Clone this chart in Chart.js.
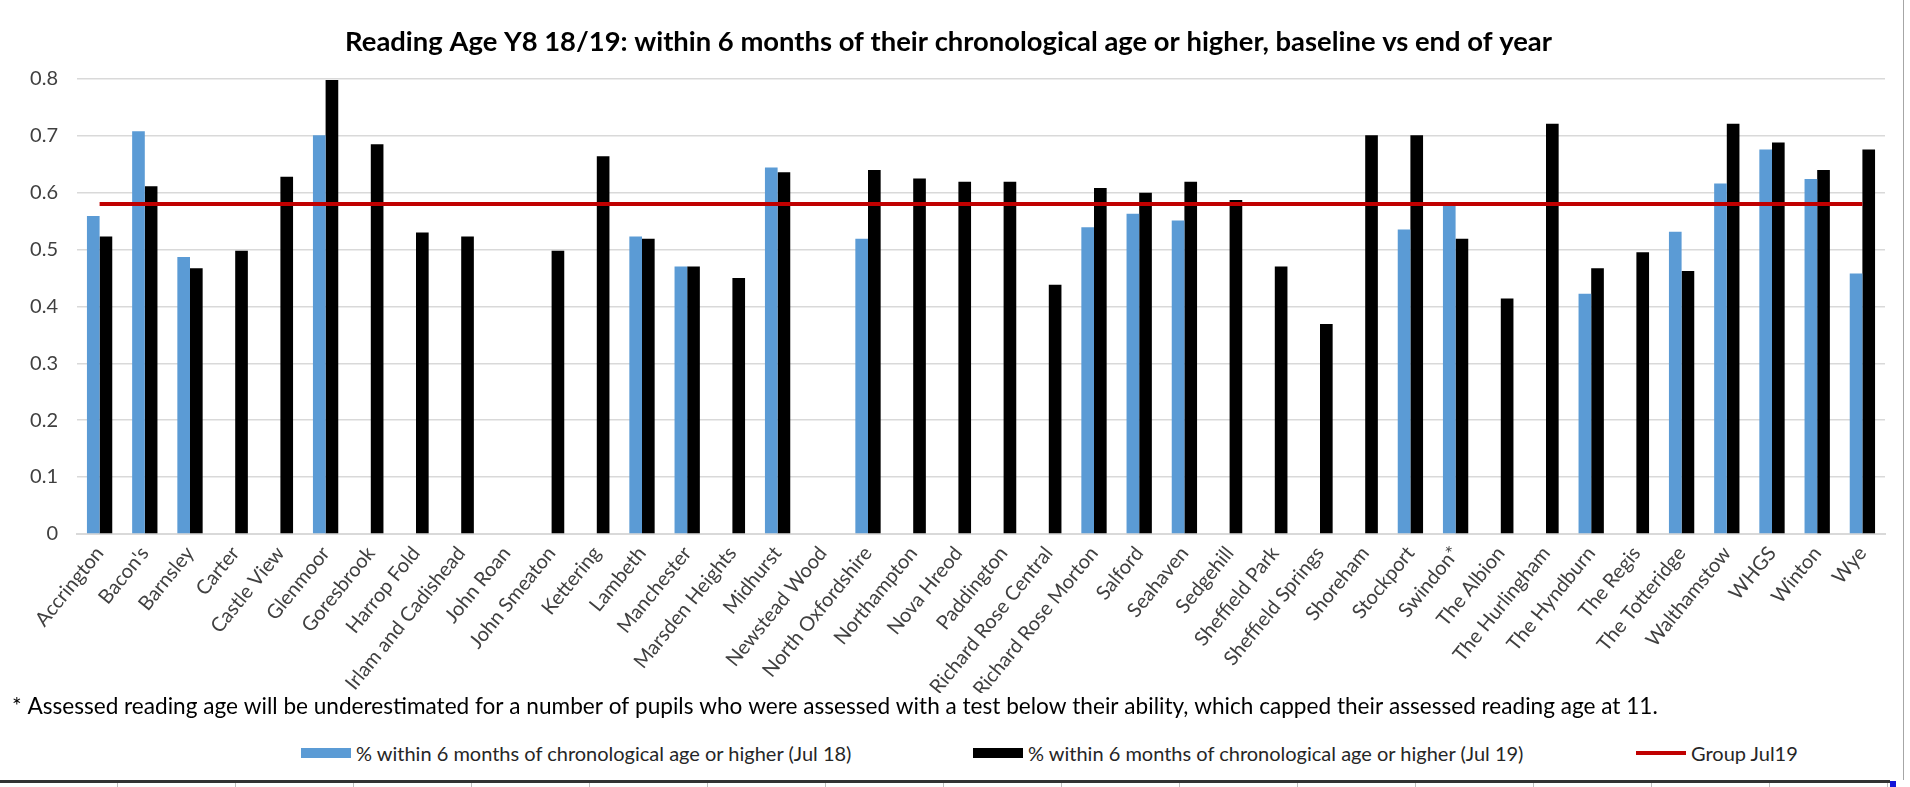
<!DOCTYPE html>
<html lang="en">
<head>
<meta charset="UTF-8">
<title>Reading Age Y8 18/19</title>
<script src="https://cdn.jsdelivr.net/npm/chart.js"></script>
<style>
  body { margin: 0; background: #fff; font-family: Lato, sans-serif; }
  #wrap { position: relative; width: 1910px; height: 787px; overflow: hidden; }
  #frame { position: absolute; left: 0; top: 0; width: 1903px; height: 780px; border-right: 1px solid #a6a6a6; }
  #chartBox { position: absolute; left: 0; top: 0; width: 1910px; height: 730px; }
  #legend { position: absolute; left: 0; top: 740px; width: 1910px; height: 26px; }
  .item { position: absolute; top: 0; height: 26px; display: flex; align-items: center; font-size: 20px; color: #262626; white-space: nowrap; }
  .swatch { width: 50px; margin-right: 5px; }
  #rule { position: absolute; left: 0; top: 780px; width: 1890px; height: 3px; background: #333; }
  #ticks { position: absolute; left: 0; top: 783px; width: 1890px; height: 4px;
           background: repeating-linear-gradient(to right, transparent 0 117px, #bfbfbf 117px 118px); }
  #mark { position: absolute; left: 1890px; top: 781px; width: 6px; height: 6px; background: #1414d8; }
</style>
</head>
<body>
<div id="wrap">
  <div id="frame"></div>
  <div id="chartBox"><canvas id="readingChart"></canvas></div>
  <div id="legend"></div>
  <div id="rule"></div>
  <div id="ticks"></div>
  <div id="mark"></div>
</div>

<script>
    // schools
    const schools = ['Accrington', "Bacon's", 'Barnsley', 'Carter', 'Castle View', 'Glenmoor', 'Goresbrook',
        'Harrop Fold', 'Irlam and Cadishead', 'John Roan', 'John Smeaton', 'Kettering', 'Lambeth', 'Manchester',
        'Marsden Heights', 'Midhurst', 'Newstead Wood', 'North Oxfordshire', 'Northampton', 'Nova Hreod',
        'Paddington', 'Richard Rose Central', 'Richard Rose Morton', 'Salford', 'Seahaven', 'Sedgehill',
        'Sheffield Park', 'Sheffield Springs', 'Shoreham', 'Stockport', 'Swindon*', 'The Albion',
        'The Hurlingham', 'The Hyndburn', 'The Regis', 'The Totteridge', 'Walthamstow', 'WHGS', 'Winton', 'Wye'];

    // baseline (Jul 18) - blank where no baseline
    const jul18 = [0.559, 0.708, 0.487, null, null, 0.701, null, null, null, null, null, null, 0.523, 0.470,
        null, 0.644, null, 0.519, null, null, null, null, 0.539, 0.563, 0.551, null, null, null, null,
        0.535, 0.578, null, null, 0.422, null, 0.531, 0.616, 0.676, 0.624, 0.458];

    // end of year (Jul 19)
    const jul19 = [0.523, 0.611, 0.467, 0.498, 0.628, 0.798, 0.685, 0.530, 0.523, null, 0.498, 0.664, 0.519,
        0.470, 0.450, 0.636, null, 0.640, 0.625, 0.619, 0.619, 0.438, 0.608, 0.600, 0.619, 0.587, 0.470,
        0.369, 0.701, 0.701, 0.519, 0.414, 0.721, 0.467, 0.495, 0.462, 0.721, 0.688, 0.640, 0.676];

    // group average Jul 19
    const groupJul19 = [0.58, 0.58, 0.58, 0.58, 0.58, 0.58, 0.58, 0.58, 0.58, 0.58, 0.58, 0.58, 0.58, 0.58,
        0.58, 0.58, 0.58, 0.58, 0.58, 0.58, 0.58, 0.58, 0.58, 0.58, 0.58, 0.58, 0.58, 0.58, 0.58, 0.58,
        0.58, 0.58, 0.58, 0.58, 0.58, 0.58, 0.58, 0.58, 0.58, 0.58];

    const footnote = '* Assessed reading age will be underestimated for a number of pupils who were assessed with a test below their ability, which capped their assessed reading age at 11.';

    Chart.defaults.font.family = "Lato, 'Liberation Sans', sans-serif";

    const ctx = document.getElementById('readingChart').getContext('2d');
    const readingChart = new Chart(ctx, {
        type: 'bar',
        data: {
            labels: schools,
            datasets: [
                {
                    label: '% within 6 months of chronological age or higher (Jul 18)',
                    data: jul18,
                    backgroundColor: '#5b9bd5',
                    categoryPercentage: 0.56,
                    barPercentage: 1,
                    order: 1
                },
                {
                    label: '% within 6 months of chronological age or higher (Jul 19)',
                    data: jul19,
                    backgroundColor: '#000000',
                    categoryPercentage: 0.56,
                    barPercentage: 1,
                    order: 1
                },
                {
                    type: 'line',
                    label: 'Group Jul19',
                    data: groupJul19,
                    borderColor: '#c00000',
                    backgroundColor: '#c00000',
                    borderWidth: 4,
                    pointRadius: 0,
                    order: 0
                }
            ]
        },
        options: {
            responsive: true,
            maintainAspectRatio: false,
            animation: false,
            layout: { padding: { top: 26, left: 12, right: 25, bottom: 10 } },
            plugins: {
                legend: { display: false },
                tooltip: { enabled: false },
                title: {
                    display: true,
                    text: 'Reading Age Y8 18/19: within 6 months of their chronological age or higher, baseline vs end of year',
                    color: '#000',
                    font: { size: 27.4, weight: 'bold' },
                    padding: { top: 0, bottom: 20 }
                },
                subtitle: {
                    display: true,
                    position: 'bottom',
                    align: 'start',
                    text: footnote,
                    color: '#000',
                    font: { size: 22.6 },
                    padding: 0
                }
            },
            scales: {
                x: {
                    grid: { display: false, drawTicks: false },
                    border: { color: '#d9d9d9', width: 2 },
                    ticks: { autoSkip: false, minRotation: 51, maxRotation: 51, padding: 8, color: '#404040', font: { size: 20 } },
                    afterFit: (scale) => { scale.height = 159; }
                },
                y: {
                    min: 0,
                    max: 0.8,
                    ticks: { stepSize: 0.1, padding: 19, color: '#404040', font: { size: 20 } },
                    grid: { color: '#d9d9d9', lineWidth: 1.5, drawTicks: false },
                    border: { display: false },
                    afterFit: (scale) => { scale.width = 65; }
                }
            }
        }
    });

    // html legend, spaced like the original
    const legendLeft = [301, 973, 1636];
    const legendEl = document.getElementById('legend');
    readingChart.data.datasets.forEach((ds, i) => {
        const item = document.createElement('div');
        item.className = 'item';
        item.style.left = legendLeft[i] + 'px';
        const sw = document.createElement('span');
        sw.className = 'swatch';
        sw.style.background = ds.type === 'line' ? ds.borderColor : ds.backgroundColor;
        sw.style.height = ds.type === 'line' ? '4px' : '10px';
        item.appendChild(sw);
        item.appendChild(document.createTextNode(ds.label));
        legendEl.appendChild(item);
    });
</script>
</body>
</html>
